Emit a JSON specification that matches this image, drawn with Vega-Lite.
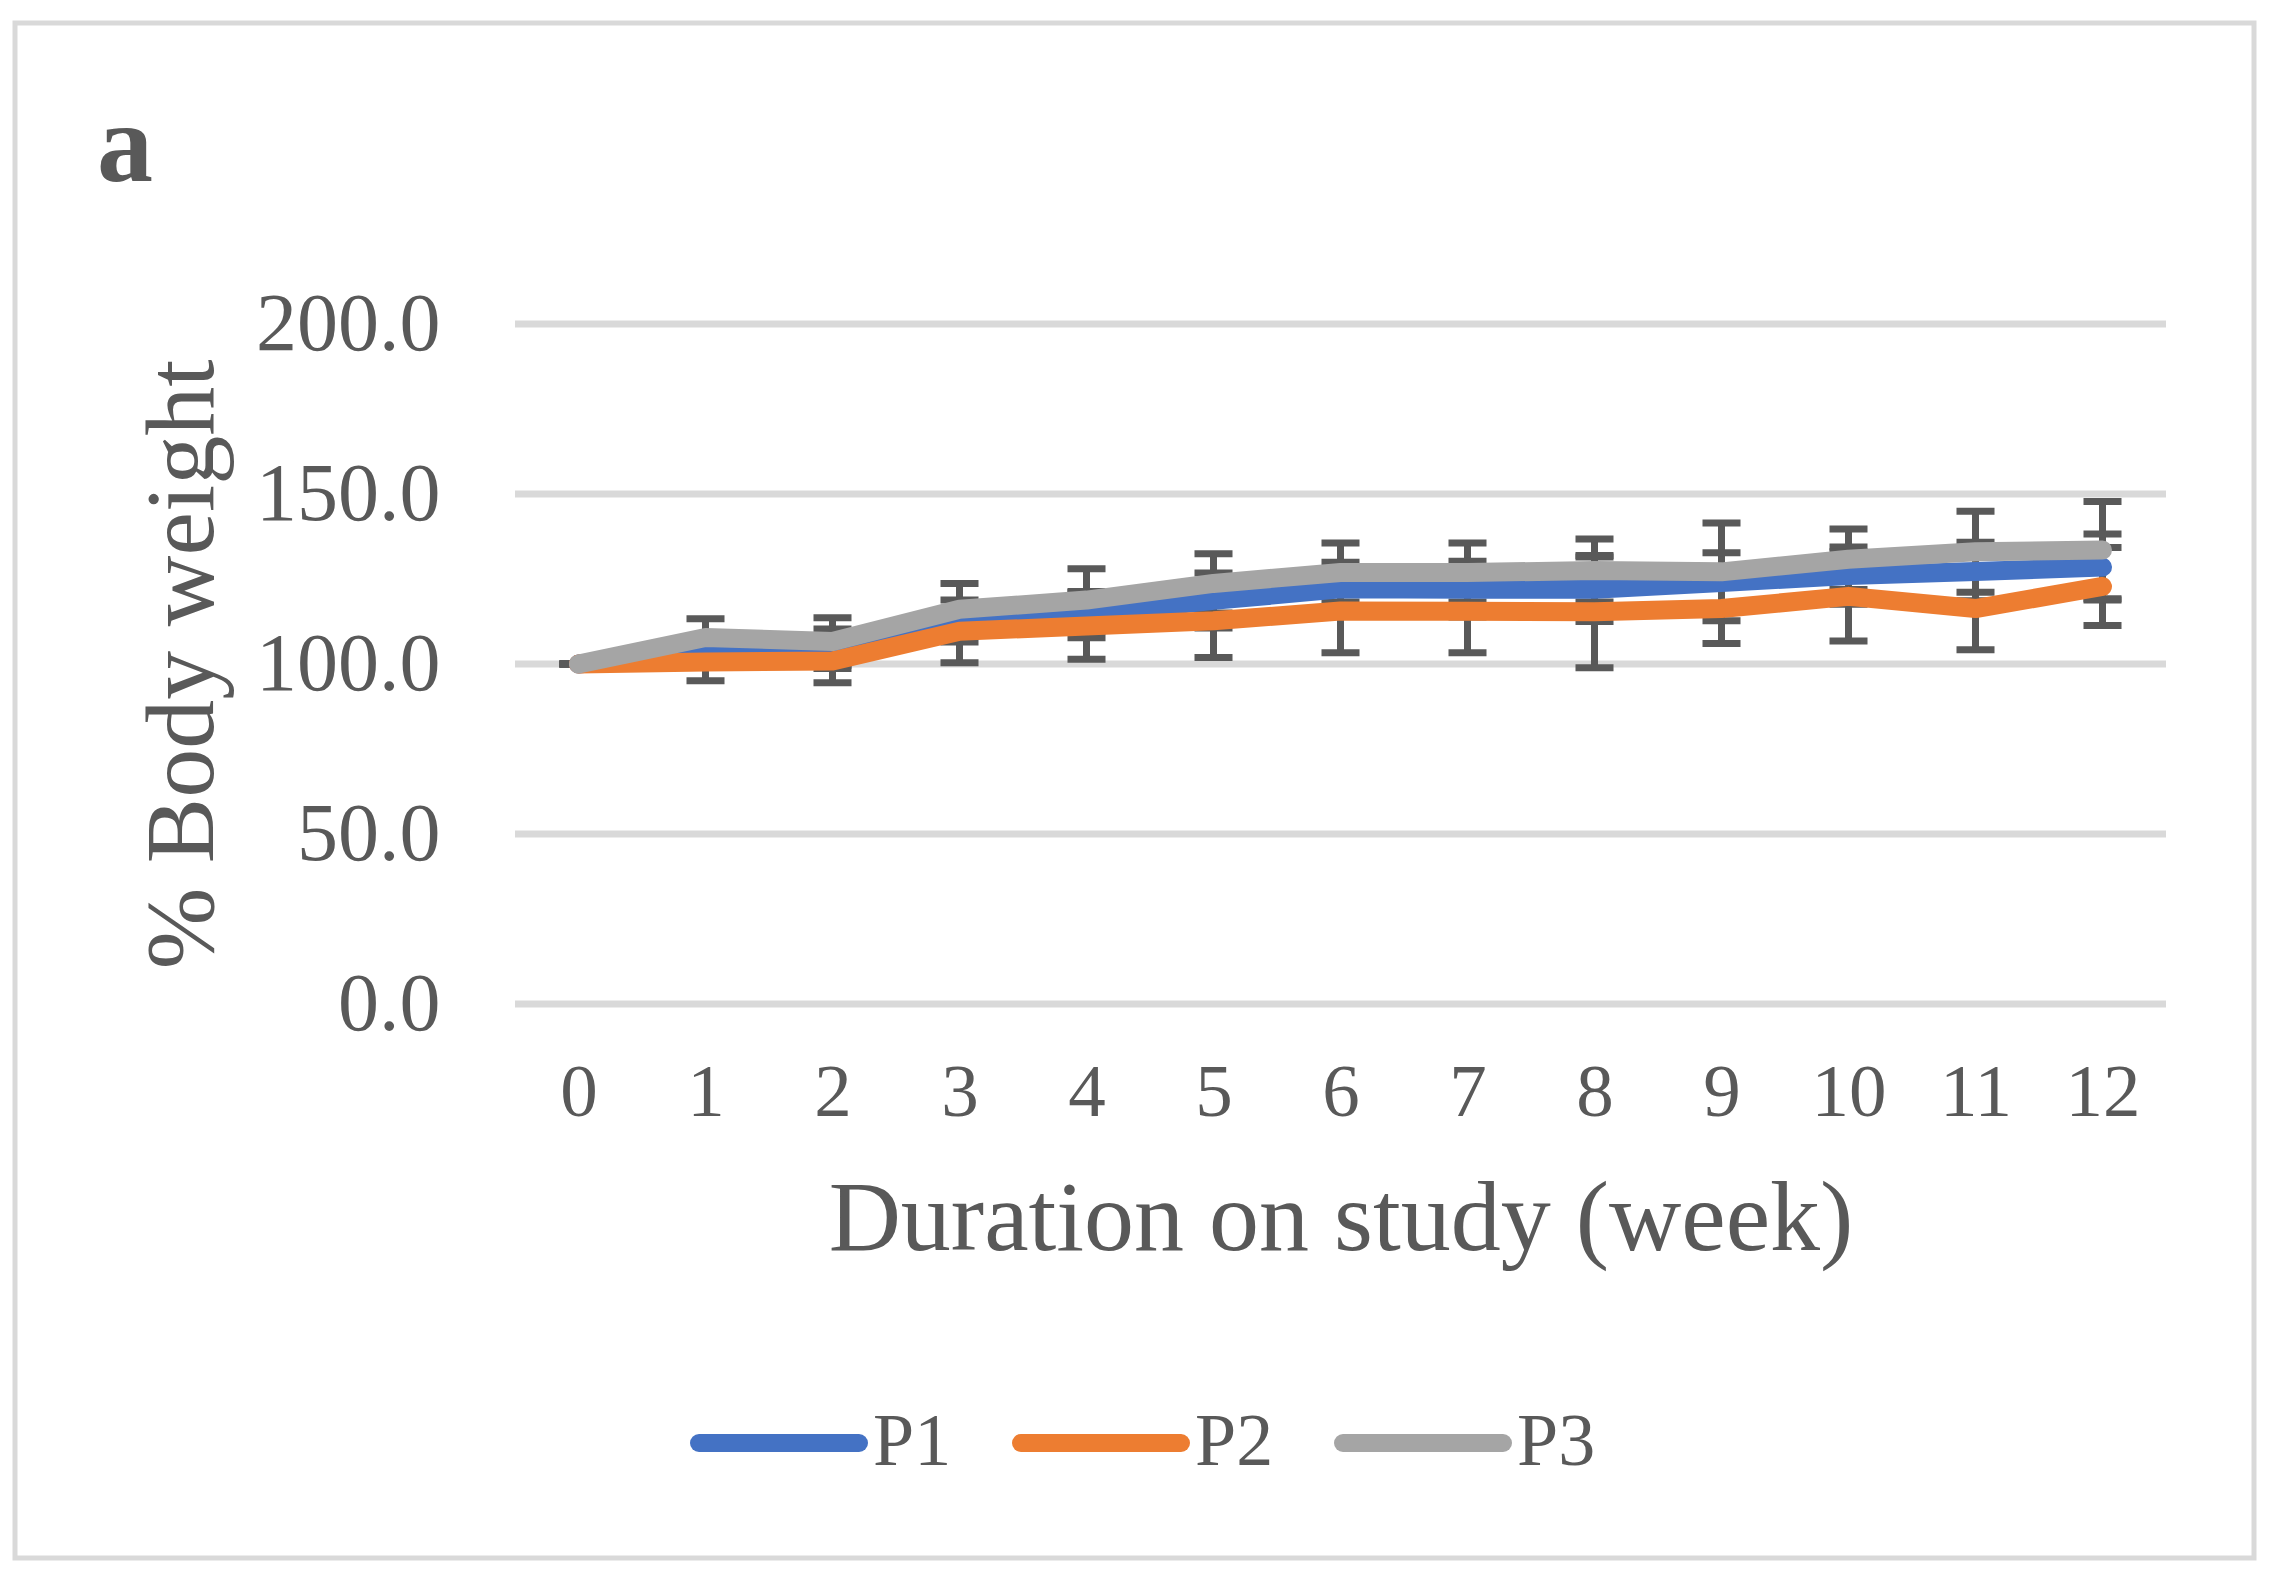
{
  "$schema": "https://vega.github.io/schema/vega-lite/v6.json",
  "autosize": "none",
  "width": 2239,
  "height": 1535,
  "padding": {"left": 15, "top": 23, "right": 22, "bottom": 34},
  "background": "white",
  "title": {"text": "a", "anchor": "start", "frame": "group", "font": "Liberation Serif", "fontSize": 112, "fontWeight": "bold", "color": "#595959", "baseline": "alphabetic", "offset": 0, "dx": 82, "dy": 270},
  "config": {"view": {"stroke": "#D9D9D9", "strokeWidth": 5}, "font": "Liberation Serif", "axis": {"grid": false, "domain": false, "ticks": false, "labelLimit": 0}},
  "datasets": {
    "grid": [{"v": 0}, {"v": 50}, {"v": 100}, {"v": 150}, {"v": 200}],
    "body": [
      {"series": "P1", "week": 0, "mean": 100, "lo": 100, "hi": 100},
      {"series": "P1", "week": 1, "mean": 103.5, "lo": 99.5, "hi": 107.5},
      {"series": "P1", "week": 2, "mean": 104.5, "lo": 98.7, "hi": 110.3},
      {"series": "P1", "week": 3, "mean": 111.0, "lo": 106.5, "hi": 115.5},
      {"series": "P1", "week": 4, "mean": 114.5, "lo": 107.7, "hi": 121.3},
      {"series": "P1", "week": 5, "mean": 118.7, "lo": 110.6, "hi": 126.8},
      {"series": "P1", "week": 6, "mean": 122.1, "lo": 114.3, "hi": 129.9},
      {"series": "P1", "week": 7, "mean": 122.0, "lo": 113.8, "hi": 130.2},
      {"series": "P1", "week": 8, "mean": 122.0, "lo": 112.5, "hi": 131.5},
      {"series": "P1", "week": 9, "mean": 124.0, "lo": 115.3, "hi": 132.7},
      {"series": "P1", "week": 10, "mean": 126.0, "lo": 117.6, "hi": 134.4},
      {"series": "P1", "week": 11, "mean": 127.2, "lo": 118.6, "hi": 135.8},
      {"series": "P1", "week": 12, "mean": 128.5, "lo": 118.8, "hi": 138.2},
      {"series": "P2", "week": 0, "mean": 100, "lo": 100, "hi": 100},
      {"series": "P2", "week": 1, "mean": 100.6, "lo": 95.1, "hi": 106.1},
      {"series": "P2", "week": 2, "mean": 100.9, "lo": 94.5, "hi": 107.3},
      {"series": "P2", "week": 3, "mean": 109.6, "lo": 100.4, "hi": 118.8},
      {"series": "P2", "week": 4, "mean": 111.2, "lo": 101.4, "hi": 121.0},
      {"series": "P2", "week": 5, "mean": 112.7, "lo": 101.9, "hi": 123.4},
      {"series": "P2", "week": 6, "mean": 115.6, "lo": 103.3, "hi": 127.9},
      {"series": "P2", "week": 7, "mean": 115.5, "lo": 103.3, "hi": 127.7},
      {"series": "P2", "week": 8, "mean": 115.4, "lo": 98.9, "hi": 131.9},
      {"series": "P2", "week": 9, "mean": 116.3, "lo": 106.0, "hi": 126.6},
      {"series": "P2", "week": 10, "mean": 119.9, "lo": 106.8, "hi": 133.0},
      {"series": "P2", "week": 11, "mean": 116.3, "lo": 104.2, "hi": 128.4},
      {"series": "P2", "week": 12, "mean": 122.8, "lo": 111.3, "hi": 134.3},
      {"series": "P3", "week": 0, "mean": 100, "lo": 100, "hi": 100},
      {"series": "P3", "week": 1, "mean": 107.8, "lo": 102.3, "hi": 113.3},
      {"series": "P3", "week": 2, "mean": 106.6, "lo": 99.6, "hi": 113.6},
      {"series": "P3", "week": 3, "mean": 116.1, "lo": 108.5, "hi": 123.7},
      {"series": "P3", "week": 4, "mean": 118.8, "lo": 109.6, "hi": 128.0},
      {"series": "P3", "week": 5, "mean": 123.7, "lo": 115.0, "hi": 132.4},
      {"series": "P3", "week": 6, "mean": 126.9, "lo": 118.2, "hi": 135.6},
      {"series": "P3", "week": 7, "mean": 126.9, "lo": 118.2, "hi": 135.6},
      {"series": "P3", "week": 8, "mean": 127.5, "lo": 118.2, "hi": 136.8},
      {"series": "P3", "week": 9, "mean": 127.1, "lo": 112.7, "hi": 141.5},
      {"series": "P3", "week": 10, "mean": 130.8, "lo": 121.9, "hi": 139.7},
      {"series": "P3", "week": 11, "mean": 133.0, "lo": 121.1, "hi": 144.9},
      {"series": "P3", "week": 12, "mean": 133.5, "lo": 119.2, "hi": 147.8}
    ]
  },
  "layer": [
    {
      "data": {"name": "grid"},
      "mark": {"type": "rule", "color": "#D9D9D9", "strokeWidth": 7},
      "encoding": {
        "x": {"datum": -0.5, "type": "quantitative",
          "scale": {"domain": [-0.5, 12.5], "range": [500, 2151], "nice": false, "zero": false},
          "axis": {"values": [0,1,2,3,4,5,6,7,8,9,10,11,12], "format": "d", "grid": false, "domain": false, "ticks": false,
            "offset": -554, "labelPadding": 52, "labelFont": "Liberation Serif", "labelFontSize": 75, "labelColor": "#595959", "labelFlush": false, "labelOverlap": false, "labelLimit": 0,
            "title": "Duration on study (week)", "titleFont": "Liberation Serif", "titleFontSize": 100, "titleFontWeight": "normal", "titleColor": "#595959", "titlePadding": 40}},
        "x2": {"datum": 12.5},
        "y": {"field": "v", "type": "quantitative",
          "scale": {"domain": [0, 200], "range": [981, 301], "nice": false, "zero": false},
          "axis": {"values": [0, 50, 100, 150, 200], "format": ".1f", "grid": false, "domain": false, "ticks": false,
            "offset": -425, "labelPadding": 0, "labelFont": "Liberation Serif", "labelFontSize": 82, "labelColor": "#595959", "labelFlush": false, "labelOverlap": false, "labelBaseline": "middle", "labelLimit": 0,
            "title": "% Body weight", "titleFont": "Liberation Serif", "titleFontSize": 98, "titleFontWeight": "normal", "titleColor": "#595959", "titlePadding": 22}}
      }
    },
    {
      "data": {"name": "body"},
      "mark": {"type": "rule", "color": "#595959", "strokeWidth": 7},
      "encoding": {
        "x": {"field": "week", "type": "quantitative"},
        "y": {"field": "lo", "type": "quantitative"},
        "y2": {"field": "hi"}
      }
    },
    {
      "data": {"name": "body"},
      "mark": {"type": "tick", "color": "#595959", "orient": "horizontal", "size": 38, "thickness": 7, "opacity": 1},
      "encoding": {
        "x": {"field": "week", "type": "quantitative"},
        "y": {"field": "lo", "type": "quantitative"}
      }
    },
    {
      "data": {"name": "body"},
      "mark": {"type": "tick", "color": "#595959", "orient": "horizontal", "size": 38, "thickness": 7, "opacity": 1},
      "encoding": {
        "x": {"field": "week", "type": "quantitative"},
        "y": {"field": "hi", "type": "quantitative"}
      }
    },
    {
      "data": {"name": "body"},
      "transform": [{"filter": "datum.series === 'P1'"}],
      "mark": {"type": "line", "strokeWidth": 19, "strokeCap": "round", "strokeJoin": "round"},
      "encoding": {
        "x": {"field": "week", "type": "quantitative"},
        "y": {"field": "mean", "type": "quantitative"},
        "color": {"field": "series", "type": "nominal",
          "scale": {"domain": ["P1", "P2", "P3"], "range": ["#4472C4", "#ED7D31", "#A5A5A5"]},
          "legend": {"orient": "none", "legendX": 675, "legendY": 1331, "direction": "horizontal", "title": null,
            "symbolType": "stroke", "symbolSize": 25600, "symbolStrokeWidth": 18, "symbolOpacity": 1,
            "labelFont": "Liberation Serif", "labelFontSize": 74, "labelColor": "#595959", "labelOffset": 5, "labelLimit": 0,
            "columnPadding": 33, "padding": 0,
            "encode": {"symbols": {"update": {"strokeCap": {"value": "round"}}}}}}
      }
    },
    {
      "data": {"name": "body"},
      "transform": [{"filter": "datum.series === 'P2'"}],
      "mark": {"type": "line", "strokeWidth": 19, "strokeCap": "round", "strokeJoin": "round"},
      "encoding": {
        "x": {"field": "week", "type": "quantitative"},
        "y": {"field": "mean", "type": "quantitative"},
        "color": {"field": "series", "type": "nominal"}
      }
    },
    {
      "data": {"name": "body"},
      "transform": [{"filter": "datum.series === 'P3'"}],
      "mark": {"type": "line", "strokeWidth": 19, "strokeCap": "round", "strokeJoin": "round"},
      "encoding": {
        "x": {"field": "week", "type": "quantitative"},
        "y": {"field": "mean", "type": "quantitative"},
        "color": {"field": "series", "type": "nominal"}
      }
    }
  ]
}
